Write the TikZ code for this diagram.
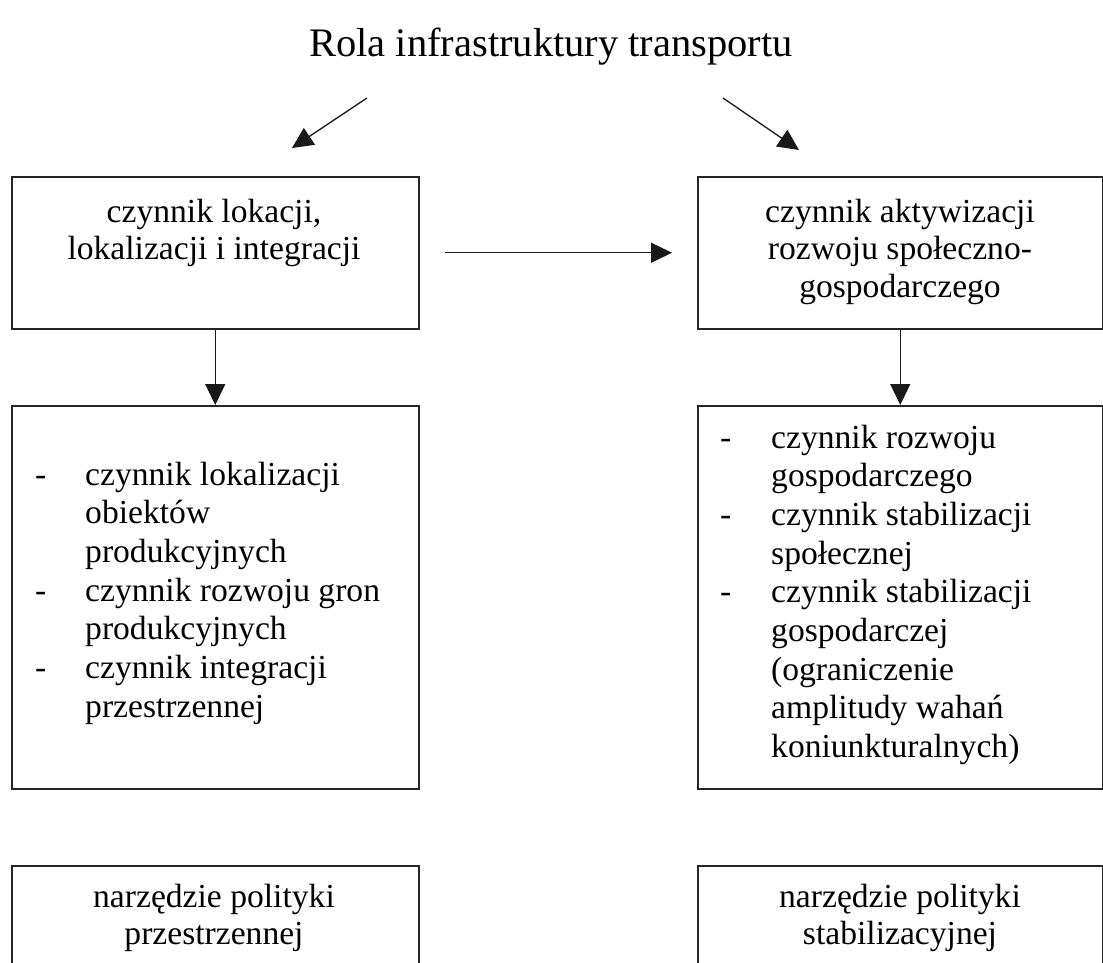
\documentclass[tikz,border=0pt]{standalone}
\usepackage{fontspec}
\setmainfont{Liberation Serif}
\usetikzlibrary{arrows.meta,calc}

\begin{document}
\begin{tikzpicture}[x=1pt,y=-1pt,
  box/.style={draw=black!85, line width=1.5pt, anchor=north west, inner sep=0pt,
    minimum width=407pt},
  txt/.style={anchor=base, inner sep=0pt, font=\fontsize{33.6}{37.8}\selectfont},
  lst/.style={anchor=base west, inner sep=0pt, font=\fontsize{33.6}{38.7}\selectfont},
  arr/.style={draw=black!90, line width=1.3pt, -{Triangle[length=21pt,width=20pt]}},
]
\clip (0,0) rectangle (1103,963);

% title
\node[anchor=base, inner sep=0pt, font=\fontsize{40.5}{46}\selectfont] (title) at (551,57)
  {Rola infrastruktury transportu};

% boxes
\node[box, minimum height=152pt] (tl) at (11,176) {};
\node[box, minimum width=405pt, minimum height=152pt] (tr) at (697,176) {};
\node[box, minimum height=383pt] (ml) at (11,405) {};
\node[box, minimum width=405pt, minimum height=383pt] (mr) at (697,405) {};
\node[box, minimum height=200pt] (bl) at (11,865) {};
\node[box, minimum width=405pt, minimum height=200pt] (br) at (697,865) {};

% box texts
\node[txt] (tlt) at (214,222) {\begin{tabular}[t]{@{}c@{}}czynnik lokacji,\\lokalizacji i integracji\end{tabular}};
\node[txt] (trt) at (900,222) {\begin{tabular}[t]{@{}c@{}}czynnik aktywizacji\\rozwoju społeczno-\\gospodarczego\end{tabular}};

\node[lst] (mlt) at (35,485) {\begin{tabular}[t]{@{}p{50pt}@{}l@{}}
  -& czynnik lokalizacji\\
   & obiektów\\
   & produkcyjnych\\
  -& czynnik rozwoju gron\\
   & produkcyjnych\\
  -& czynnik integracji\\
   & przestrzennej
\end{tabular}};

\node[lst] (mrt) at (720,448) {\begin{tabular}[t]{@{}p{51pt}@{}l@{}}
  -& czynnik rozwoju\\
   & gospodarczego\\
  -& czynnik stabilizacji\\
   & społecznej\\
  -& czynnik stabilizacji\\
   & gospodarczej\\
   & (ograniczenie\\
   & amplitudy wahań\\
   & koniunkturalnych)
\end{tabular}};

\node[txt] (blt) at (214,907) {\begin{tabular}[t]{@{}c@{}}narzędzie polityki\\przestrzennej\end{tabular}};
\node[txt] (brt) at (900,907) {\begin{tabular}[t]{@{}c@{}}narzędzie polityki\\stabilizacyjnej\end{tabular}};

% connectors
\coordinate (la) at (367,98);
\coordinate (lb) at (292,148);
\coordinate (ra) at (723,98);
\coordinate (rb) at (799,150);
\draw[arr] (la) -- (lb);
\draw[arr] (ra) -- (rb);
\draw[arr] ([xshift=25pt]tl.east) -- ([xshift=-25pt]tr.west);
\draw[arr] (tl.south) -- (ml.north);
\draw[arr] (tr.south) -- (mr.north);
\end{tikzpicture}
\end{document}
